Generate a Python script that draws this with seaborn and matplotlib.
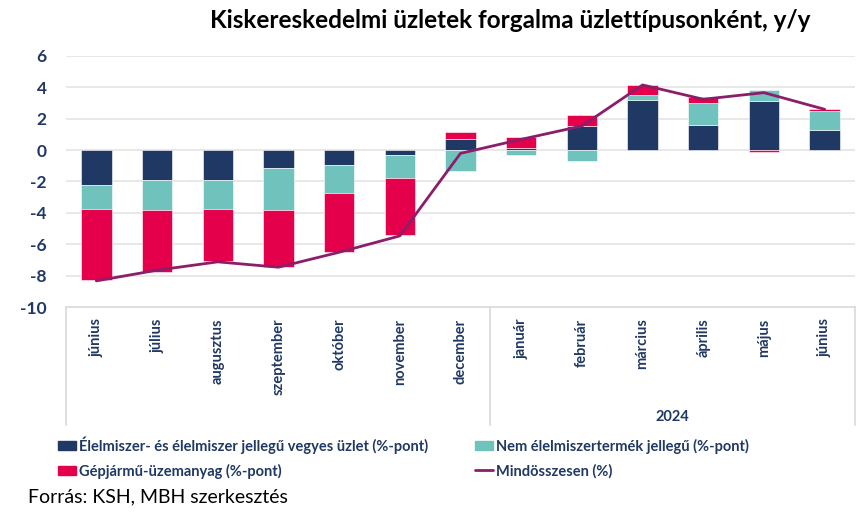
import numpy as np
import pandas as pd
import matplotlib
matplotlib.use("Agg")
import matplotlib.pyplot as plt
import seaborn as sns
from matplotlib.patches import Patch
from matplotlib.lines import Line2D

# ---- data ----
periods = ["2023-06", "2023-07", "2023-08", "2023-09", "2023-10", "2023-11", "2023-12",
           "2024-01", "2024-02", "2024-03", "2024-04", "2024-05", "2024-06"]
month_labels = ["június", "július", "augusztus", "szeptember", "október", "november", "december",
                "január", "február", "március", "április", "május", "június"]
year_label = "2024"
food = [-2.23, -1.93, -1.93, -1.13, -0.93, -0.30, 0.68, 0.10, 1.53, 3.18, 1.59, 3.10, 1.30]
nonfood = [-1.53, -1.89, -1.83, -2.70, -1.80, -1.49, -1.32, -0.30, -0.68, 0.30, 1.42, 0.70, 1.19]
fuel = [-4.48, -3.93, -3.29, -3.63, -3.76, -3.63, 0.45, 0.76, 0.68, 0.64, 0.34, -0.13, 0.13]
total = [-8.32, -7.64, -7.11, -7.45, -6.50, -5.46, -0.21, 0.68, 1.53, 4.14, 3.23, 3.65, 2.59]

names = ["Élelmiszer- és élelmiszer jellegű vegyes üzlet (%-pont)",
         "Nem élelmiszertermék jellegű (%-pont)",
         "Gépjármű-üzemanyag (%-pont)",
         "Mindösszesen (%)"]
title = "Kiskereskedelmi üzletek forgalma üzlettípusonként, y/y"
source = "Forrás: KSH, MBH szerkesztés"

C_NAVY = "#203864"
C_TEAL = "#6fc3bc"
C_RED = "#e4004b"
C_LINE = "#8b1e6b"
TXT = "#1f3864"

sns.set_theme(style="white")
plt.rcParams["font.family"] = ["Lato", "DejaVu Sans"]

fig = plt.figure(figsize=(8.59, 5.17), dpi=100)
ax = fig.add_axes([66 / 859, 1 - 307.3 / 517, (855 - 66) / 859, (307.3 - 55.7) / 517])

df = pd.DataFrame({"period": periods, "food": food, "nonfood": nonfood,
                   "fuel": fuel, "total": total})

pos_bottom = np.zeros(len(periods))
neg_bottom = np.zeros(len(periods))
for col, color in [("food", C_NAVY), ("nonfood", C_TEAL), ("fuel", C_RED)]:
    vals = df[col].to_numpy()
    bottoms = np.where(vals >= 0, pos_bottom, neg_bottom)
    sns.barplot(data=df, x="period", y=col, order=periods, color=color,
                bottom=bottoms, width=0.5, saturation=1, ax=ax,
                edgecolor="white", linewidth=0.4)
    pos_bottom = pos_bottom + np.where(vals >= 0, vals, 0)
    neg_bottom = neg_bottom + np.where(vals < 0, vals, 0)

df["idx"] = np.arange(len(periods))
sns.lineplot(data=df, x="idx", y="total", color=C_LINE, linewidth=2, ax=ax)

ax.set_xlim(-0.5, len(periods) - 0.5)
ax.set_ylim(-10, 6)
ax.set_yticks(np.arange(-10, 7, 2))
ax.set_yticklabels([str(v) for v in range(-10, 7, 2)], fontsize=12.5,
                   fontweight="bold", color=TXT)
for v in range(-8, 7, 2):
    ax.axhline(v, color="#e4e4e4", linewidth=1.2, zorder=0)
ax.set_xticks(np.arange(len(periods)))
ax.set_xticklabels(month_labels, rotation=90, fontsize=10.5, fontweight="bold",
                   color=TXT, va="top")
ax.tick_params(axis="x", length=0, pad=8)
ax.tick_params(axis="y", length=0, pad=14)
ax.set_xlabel("")
ax.set_ylabel("")
for s in ["top", "right", "left"]:
    ax.spines[s].set_visible(False)
ax.spines["bottom"].set_color("#d9d9d9")
ax.spines["bottom"].set_linewidth(1.2)

# category group separators
ybot = 1 - 425 / 517
for xf in [66 / 859, 490 / 859, 855 / 859]:
    fig.add_artist(Line2D([xf, xf], [ybot, 1 - 307.3 / 517], color="#d9d9d9", linewidth=1.2))
fig.text(672 / 859, 1 - 417 / 517, year_label, ha="center", va="center",
         fontsize=10.5, fontweight="bold", color=TXT)

fig.text(810 / 859, 1 - 20 / 517, title, ha="right", va="center",
         fontsize=17.5, fontweight="bold", color="black")

handles = [Patch(color=C_NAVY), Patch(color=C_RED), Patch(color=C_TEAL),
           Line2D([], [], color=C_LINE, linewidth=2)]
labels = [names[0], names[2], names[1], names[3]]
leg = fig.legend(handles, labels, ncol=2, loc="upper left",
                 bbox_to_anchor=(45 / 859, 1 - 423 / 517), frameon=False,
                 handlelength=1.25, handleheight=0.6, handletextpad=0.2,
                 columnspacing=3.2, labelspacing=0.7,
                 prop={"size": 10.5, "weight": "bold"})
for t in leg.get_texts():
    t.set_color(TXT)

fig.text(28 / 859, 1 - 497 / 517, source, ha="left", va="center",
         fontsize=14, color="black")

fig.savefig("out.png", dpi=100)
